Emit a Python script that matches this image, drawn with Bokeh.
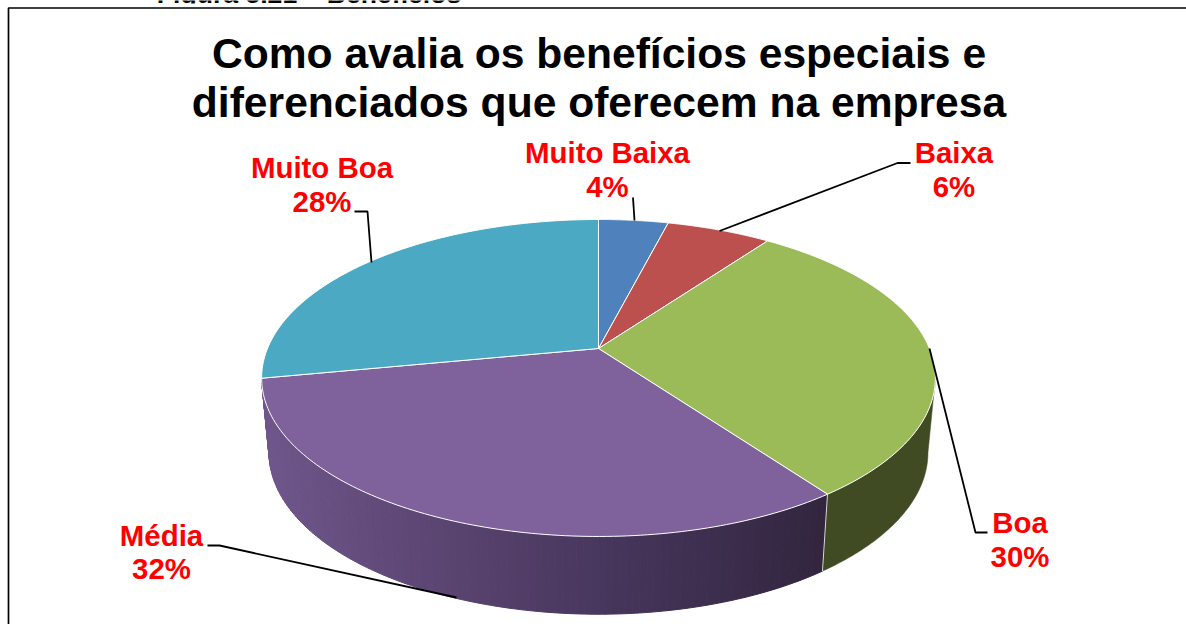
import numpy as np
from bokeh.plotting import figure
from bokeh.models import Range1d
from bokeh.core.properties import value
from bokeh.embed import file_html
from bokeh.resources import INLINE

# ---- data ----
categories = ["Muito Baixa", "Baixa", "Boa", "Média", "Muito Boa"]
percents = [4, 6, 30, 32, 28]
title_lines = ["Como avalia os benefícios especiais e",
               "diferenciados que oferecem na empresa"]
caption = "Figura 5.21 – Benefícios"

# ---- styles / layout ----
top_colors = ["#4F81BD", "#BC504E", "#9BBB59", "#7F619C", "#4BA9C3"]
label_centers = [607, 953.5, 1019.5, 161, 321.5]
label_baselines = [163, 163, 533, 546, 178]
label_pct_baselines = [197, 197, 567, 579, 212]
leaders = [
    ([632.5, 634], [197, 220]),
    ([910, 897, 719], [162.5, 162.5, 230.5]),
    ([929, 975, 987], [348, 532, 532]),
    ([207, 219, 456], [545, 545, 597]),
    ([354, 367, 371], [211, 211, 262]),
]

CX, CY = 598.0, 348.0
A, B, K = 331.0, 153.0, 0.186
LOWER = dict(sx=0.978, sy=1.02, cy=422.0)
BASELINE_SHIFT = 0.37  # svg text sits this many font sizes below the requested baseline


def rim(theta, sx=1.0, sy=1.0, cy=CY):
    """Perspective projection of the pie rim; theta runs clockwise from the back."""
    w = 1 + K * np.cos(theta)
    return CX + sx * A * np.sin(theta) / w, cy - sy * B * np.cos(theta) / w


def put_text(xs, baselines, texts, size, color):
    p.text(xs, [b - BASELINE_SHIFT * size for b in baselines], text=texts,
           text_align="center", text_baseline="alphabetic",
           text_font=value("Liberation Sans"), text_font_style="bold",
           text_font_size=f"{size}px", text_color=color)


p = figure(width=1186, height=624, output_backend="svg", toolbar_location=None,
           x_range=Range1d(0, 1186), y_range=Range1d(624, 0),
           min_border=0, outline_line_color=None)
p.axis.visible = False
p.grid.visible = False
p.background_fill_color = "white"
p.border_fill_color = "white"

# caption, cut off by the crop of the page and by the chart's white area
put_text([308.5], [3], [caption], 26.6, "black")
p.quad(left=[150], right=[470], top=[3], bottom=[8], fill_color="white", line_color=None)

# frame
p.line([1186, 8, 8], [7.5, 7.5, 624], line_color="black", line_width=1.7)

edges = np.radians(np.concatenate([[0], np.cumsum(percents)]) * 3.6)
end_boa = edges[3]
end_media = edges[4]

# side wall of "Boa" (solid dark green), from the rim's widest point
t = np.linspace(np.arccos(-K), end_boa, 80)
x1, y1 = rim(t)
x2, y2 = rim(t, **LOWER)
p.patch(np.r_[x1, x2[::-1]], np.r_[y1, y2[::-1]], fill_color="#404A23", line_color="#404A23", line_width=0.5)

# side wall of "Média" (horizontal shading)
stops_x = [262, 450, 600, 822]
stops_rgb = np.array([[0x70, 0x57, 0x8C], [0x5A, 0x44, 0x70], [0x48, 0x37, 0x5E], [0x32, 0x26, 0x3F]])
t = np.linspace(end_boa, end_media, 116)
xs, ys, cols = [], [], []
for a, b in zip(t[:-1], t[1:]):
    xa, ya = rim(a)
    xb, yb = rim(b)
    xc, yc = rim(b, **LOWER)
    xd, yd = rim(a, **LOWER)
    xs.append([xa, xb, xc, xd])
    ys.append([ya, yb, yc, yd])
    mid = (xa + xb + xc + xd) / 4
    rgb = [int(np.interp(mid, stops_x, stops_rgb[:, i])) for i in range(3)]
    cols.append("#%02X%02X%02X" % tuple(rgb))
p.patches(xs, ys, fill_color=cols, line_color=cols, line_width=1)

# pale edge between the two visible walls
xe, ye = rim(end_boa)
xf, yf = rim(end_boa, **LOWER)
p.line([xe, xf], [ye, yf], line_color="#D9D9D9", line_width=1)

# top surface
for a, b, c in zip(edges[:-1], edges[1:], top_colors):
    t = np.linspace(a, b, 120)
    x, y = rim(t)
    p.patch(np.r_[CX, x], np.r_[CY, y], fill_color=c, line_color="white", line_width=1)

# leader lines
for lx, ly in leaders:
    p.line(lx, ly, line_color="black", line_width=1.8)

# title and data labels
put_text([598.5, 598.5], [68, 117], title_lines, 42.6, "black")
put_text(label_centers, label_baselines, categories, 29.4, "#FF0000")
put_text(label_centers, label_pct_baselines, [f"{v}%" for v in percents], 29.4, "#FF0000")

open("out.html", "w").write(file_html(p, INLINE))
